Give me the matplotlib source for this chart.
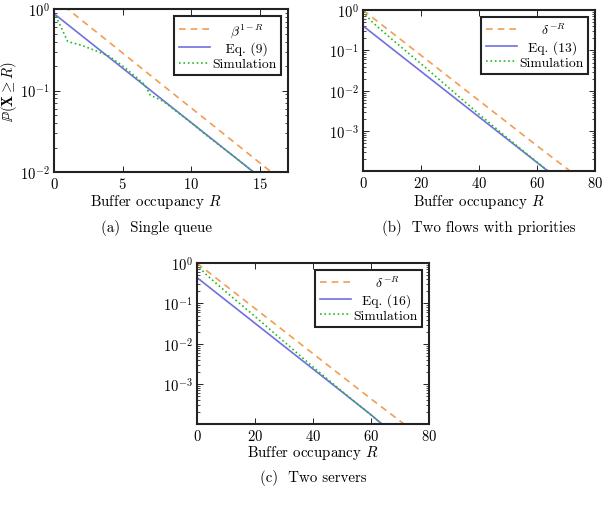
import matplotlib.pyplot as plt
from matplotlib.ticker import LogLocator, NullFormatter, FixedLocator

plt.rcParams['font.family'] = 'serif'
plt.rcParams['font.serif'] = ['cmr10', 'DejaVu Serif']
plt.rcParams['mathtext.fontset'] = 'cm'
plt.rcParams['axes.formatter.use_mathtext'] = True
plt.rcParams['font.size'] = 10.5

# (a) single queue
r_bound_a = [0, 4, 8, 12, 16]
bound_a = [1.365, 0.394, 0.113, 0.0327, 0.0094]
r_eq_a = [0, 4, 8, 12, 15]
eq_a = [0.88, 0.256, 0.0745, 0.0217, 0.0086]
r_sim_a = [0, 1, 2, 3, 4, 5, 6, 6.6, 7, 8, 9, 10, 11, 12, 13, 14, 15]
sim_a = [0.92, 0.40, 0.36, 0.31, 0.265, 0.20, 0.145, 0.118, 0.088, 0.073,
         0.054, 0.040, 0.029, 0.0215, 0.016, 0.0117, 0.0086]

# (b) two flows with priorities
r_bound_b = [0, 20, 40, 60, 72]
bound_b = [1.0, 0.0758, 0.00575, 0.000436, 0.0000958]
r_eq_b = [0, 20, 40, 60, 64]
eq_b = [0.407, 0.0303, 0.00226, 0.000168, 0.0000999]
r_sim_b = [0, 1, 2, 3, 5, 10, 20, 30, 40, 50, 60, 64]
sim_b = [0.955, 0.766, 0.627, 0.526, 0.387, 0.189, 0.047, 0.0112,
         0.00265, 0.00066, 0.000172, 0.0001]

# (c) two servers
r_bound_c = [0, 20, 40, 60, 72]
bound_c = [1.0, 0.0758, 0.00575, 0.000436, 0.0000958]
r_eq_c = [0, 20, 40, 60, 64]
eq_c = [0.44, 0.0325, 0.00240, 0.000176, 0.0001]
r_sim_c = [0, 1, 2, 3, 5, 10, 20, 30, 40, 50, 60, 64]
sim_c = [0.96, 0.78, 0.64, 0.54, 0.40, 0.195, 0.048, 0.0114,
         0.0027, 0.00067, 0.000174, 0.0001]

orange = '#f29d52'
blue = '#6f6fe0'
green = '#22bb22'

fig = plt.figure(figsize=(6.04, 5.06), dpi=100)

panels = [
    ([0.0894, 0.658, 0.387, 0.322], r_bound_a, bound_a, r_eq_a, eq_a, r_sim_a, sim_a,
     '    ' + r'$\beta^{1-R}$', '   Eq. (9)', (0, 17), [0, 5, 10, 15], (0.01, 1.0)),
    ([0.601, 0.660, 0.384, 0.318], r_bound_b, bound_b, r_eq_b, eq_b, r_sim_b, sim_b,
     '     ' + r'$\delta^{-R}$', '  Eq. (13)', (0, 80), [0, 20, 40, 60, 80], (1.03e-4, 1.0)),
    ([0.326, 0.160, 0.384, 0.318], r_bound_c, bound_c, r_eq_c, eq_c, r_sim_c, sim_c,
     '     ' + r'$\delta^{-R}$', '  Eq. (16)', (0, 80), [0, 20, 40, 60, 80], (1.03e-4, 1.0)),
]

axes = []
for rect, rb, vb, re, ve, rs, vs, lb, le, xl, xt, yl in panels:
    ax = fig.add_axes(rect)
    ax.plot(rb, vb, '--', color=orange, lw=1.2, dashes=(4, 3), label=lb)
    ax.plot(re, ve, '-', color=blue, lw=1.2, label=le)
    ax.plot(rs, vs, ':', color=green, lw=1.2, label='Simulation')
    ax.set_yscale('log')
    ax.set_xlim(*xl)
    ax.set_ylim(*yl)
    ax.xaxis.set_major_locator(FixedLocator(xt))
    ax.yaxis.set_major_locator(LogLocator(base=10, numticks=10))
    ax.yaxis.set_minor_locator(LogLocator(base=10, subs=range(2, 10), numticks=10))
    ax.yaxis.set_minor_formatter(NullFormatter())
    ax.tick_params(which='both', direction='in', top=True, right=True, labelsize=10.5)
    ax.tick_params(which='major', length=4, width=0.6, pad=3)
    ax.tick_params(which='minor', length=2, width=0.5)
    for s in ax.spines.values():
        s.set_linewidth(1.5)
        s.set_color('#222222')
    leg = ax.legend(loc='upper right', fancybox=False, edgecolor='#222222',
                    framealpha=1, fontsize=9.8, handlelength=2.3, borderpad=0.35,
                    labelspacing=0.2, handletextpad=0.15, borderaxespad=0.5)
    leg.get_frame().set_linewidth(1.5)
    axes.append(ax)

axes[0].set_ylabel(r'$\mathbb{P}(\mathbf{X} \geq R)$', fontsize=10.5, labelpad=1)

fs = 10.8
fig.text(0.2583, 1 - 202 / 506, 'Buffer occupancy $R$', ha='center', va='center', fontsize=fs)
fig.text(0.2583, 1 - 228 / 506, '(a)  Single queue', ha='center', va='center', fontsize=fs)
fig.text(0.793, 1 - 202 / 506, 'Buffer occupancy $R$', ha='center', va='center', fontsize=fs)
fig.text(0.793, 1 - 228 / 506, '(b)  Two flows with priorities', ha='center', va='center', fontsize=fs)
fig.text(0.518, 1 - 453 / 506, 'Buffer occupancy $R$', ha='center', va='center', fontsize=fs)
fig.text(0.518, 1 - 478 / 506, '(c)  Two servers', ha='center', va='center', fontsize=fs)

fig.savefig('out.png', dpi=100)
